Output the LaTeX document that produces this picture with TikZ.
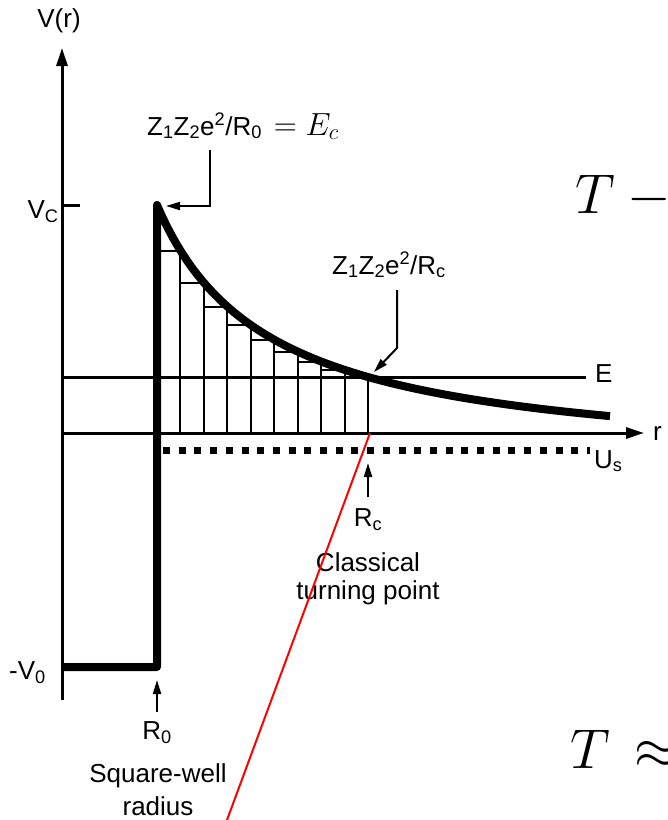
\documentclass[tikz,border=0pt]{standalone}
\usepackage{fix-cm}
\usepackage{fontspec}
\setmainfont{Liberation Sans}
\usetikzlibrary{arrows.meta}
\begin{document}
\begin{tikzpicture}[x=1pt,y=-1pt,
  lbl/.style={font=\fontsize{26}{30}\selectfont, inner sep=0pt},
  bigmath/.style={font=\fontsize{56}{62}\selectfont, inner sep=0pt},
  axisline/.style={line width=3pt},
  axisarrow/.style={line width=3pt,-{Triangle[length=18pt,width=11pt]}},
  heavy/.style={line width=8pt, line join=round},
  stepline/.style={line width=2pt},
  pointer/.style={line width=2pt,-{Triangle[length=14pt,width=8pt]}},
  redline/.style={line width=2pt, draw=red}]
\useasboundingbox (0,0) rectangle (668,820);
\clip (0,0) rectangle (668,820);
% axes
\coordinate (ybot) at (62,700);
\coordinate (ytop) at (62,48);
\coordinate (rorig) at (62,433);
\coordinate (rend) at (644,433);
\draw[axisarrow] (ybot) -- (ytop);
\draw[axisarrow] (rorig) -- (rend);
\coordinate (tickA) at (62,205);
\coordinate (tickB) at (80,205);
\draw[axisline] (tickA) -- (tickB);
% E line
\coordinate (eL) at (62,377.1);
\coordinate (eR) at (586,377.1);
\draw[axisline] (eL) -- (eR);
% steps
\foreach \i in {1,...,9} {
  \pgfmathsetmacro\xa{157+(\i-1)*23.49}
  \pgfmathsetmacro\xb{157+\i*23.49}
  \pgfmathsetmacro\yb{468.3-294.92/((\xb-45)/100)}
  \draw[stepline] (\xb,433) -- (\xb,\yb);
  \draw[stepline] (\xa,\yb) -- (\xb,\yb);
}
% dotted U_s line
\coordinate (uL) at (163,450);
\coordinate (uR) at (590,450);
\draw[line width=7pt, dash pattern=on 7pt off 8.7pt] (uL) -- (uR);
% well + barrier + coulomb tail
\coordinate (wA) at (62,667);
\coordinate (wB) at (157,667);
\coordinate (wC) at (157,205);
\draw[heavy] (wA) -- (wB) -- (wC) -- plot[domain=157:610, samples=90] (\x, {468.3-294.92/((\x-45)/100)});
% labels
\node[lbl] (vr) at (59,21) {V(r)};
\node[lbl] (vc) at (43,212) {V\textsubscript{C}};
\node[lbl, anchor=west] (v0) at (9,673) {-V\textsubscript{0}};
\node[lbl, anchor=base west] (ec) at (147,135) {Z\textsubscript{1}Z\textsubscript{2}e\textsuperscript{2}/R\textsubscript{0}\kern3pt{\fontsize{32}{36}\selectfont${}=E_c$}};
\node[lbl] (zrc) at (389,265) {Z\textsubscript{1}Z\textsubscript{2}e\textsuperscript{2}/R\textsubscript{c}};
\node[lbl, anchor=base west] (elab) at (595,382) {E};
\node[lbl, anchor=base west] (rlab) at (653,440) {r};
\node[lbl, anchor=base west] (uslab) at (594,468) {U\textsubscript{s}};
\node[lbl] (r0) at (157,733) {R\textsubscript{0}};
\node[lbl] (sq) at (158,776) {Square-well};
\node[lbl] (rad) at (158,806) {radius};
\node[lbl] (rc) at (368,520) {R\textsubscript{c}};
\node[lbl] (cl) at (368,562) {Classical};
\node[lbl] (tp) at (368,593) {turning point};
\node[bigmath, anchor=base west] (t1) at (575,213) {$T -{}$};
\node[bigmath, anchor=base west] (t2) at (570,768) {$T \mskip3mu\approx$};
% pointers
\coordinate (p1a) at (210,150);
\coordinate (p1b) at (210,206);
\coordinate (p1c) at (166,206);
\draw[pointer] (p1a) -- (p1b) -- (p1c);
\coordinate (p2a) at (397,290);
\coordinate (p2b) at (397,348);
\coordinate (p2c) at (374,372);
\draw[pointer] (p2a) -- (p2b) -- (p2c);
\coordinate (p3a) at (157,712);
\coordinate (p3b) at (157,680);
\draw[pointer] (p3a) -- (p3b);
\coordinate (p4a) at (368,497);
\coordinate (p4b) at (368,463);
\draw[pointer] (p4a) -- (p4b);
% red line
\coordinate (redA) at (370,433);
\coordinate (redB) at (223.3,830);
\draw[redline] (redA) -- (redB);
\end{tikzpicture}
\end{document}
